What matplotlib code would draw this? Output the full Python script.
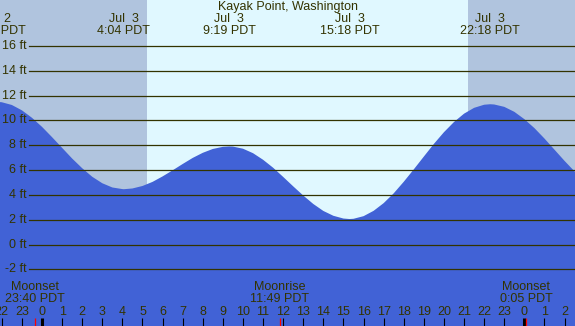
import matplotlib
matplotlib.use("Agg")
import matplotlib.pyplot as plt
from matplotlib.transforms import blended_transform_factory

# Tide chart, Kayak Point WA, Jul 3 -- hours counted from local midnight
STATION = "Kayak Point, Washington"

# water level (ft)
hours = [-3, -2.5, -2.29, -2, -1.5, -1, -0.5, 0, 0.5, 1, 1.5, 2, 2.5, 3, 3.5, 4, 4.07,
         4.5, 5, 5.5, 6, 6.5, 7, 7.5, 8, 8.5, 9, 9.32, 9.5, 10, 10.5, 11, 11.5, 12,
         12.5, 13, 13.5, 14, 14.5, 15, 15.3, 15.5, 16, 16.5, 17, 17.5, 18, 18.5, 19,
         19.5, 20, 20.5, 21, 21.5, 22, 22.3, 22.5, 23, 23.5, 24, 24.5, 25, 25.5, 26,
         26.5, 27]
heights = [11.29, 11.48, 11.50, 11.46, 11.24, 10.81, 10.21, 9.48, 8.65, 7.79, 6.93,
           6.15, 5.46, 4.94, 4.60, 4.47, 4.46, 4.52, 4.72, 5.05, 5.49, 5.98, 6.49,
           6.98, 7.39, 7.70, 7.87, 7.90, 7.89, 7.72, 7.36, 6.83, 6.19, 5.45, 4.69,
           3.95, 3.27, 2.71, 2.32, 2.10, 2.06, 2.08, 2.29, 2.72, 3.34, 4.13, 5.06,
           6.06, 7.09, 8.11, 9.05, 9.87, 10.54, 11.01, 11.26, 11.30, 11.28, 11.09,
           10.69, 10.10, 9.38, 8.54, 7.64, 6.74, 5.89, 5.13]

# high / low tide labels along the top
tide_hours = [-2.29, 4.07, 9.32, 15.30, 22.30]
tide_dates = ["Jul  2", "Jul  3", "Jul  3", "Jul  3", "Jul  3"]
tide_times = ["21:43 PDT", "4:04 PDT", "9:19 PDT", "15:18 PDT", "22:18 PDT"]

# moon events along the bottom
moon_hours = [-0.33, 11.82, 24.08]
moon_events = ["Moonset", "Moonrise", "Moonset"]
moon_times = ["23:40 PDT", "11:49 PDT", "0:05 PDT"]

sunrise, sunset = 5.22, 21.2

hour_ticks = list(range(-2, 27))
hour_labels = ["22", "23"] + [str(h) for h in range(24)] + ["0", "1", "2"]
ft_ticks = [-2, 0, 2, 4, 6, 8, 10, 12, 14, 16]

NIGHT = "#b0c4de"
DAY = "#e0f8ff"
WATER = "#4162d6"
INK = "#333300"
W, H = 575, 326

plt.rcParams["font.family"] = ["Liberation Sans", "DejaVu Sans"]
FS = 9

fig = plt.figure(figsize=(W / 100, H / 100), dpi=100)
ax = fig.add_axes([0, 0, 1, 1])
ax.set_xlim(-2.09, 26.52)
ax.set_ylim(-6.55, 19.69)
ax.axis("off")

ax.axvspan(-4, sunrise, color=NIGHT, lw=0)
ax.axvspan(sunrise, sunset, color=DAY, lw=0)
ax.axvspan(sunset, 28, color=NIGHT, lw=0)

ax.fill_between(hours, heights, -10, color=WATER, lw=0)

# height grid + labels
fig_y = blended_transform_factory(fig.transFigure, ax.transData)
for ft in ft_ticks:
    ax.axhline(ft, xmin=29 / W, xmax=1, color=INK, lw=0.9)
    ax.text(27 / W, ft, f"{ft} ft", transform=fig_y, ha="right", va="center",
            fontsize=FS, color=INK)

# top: station name and tide times
top = blended_transform_factory(ax.transData, fig.transFigure)
fig.text(0.5, 1 - 7 / H, STATION, ha="center", va="center", fontsize=FS, color=INK)
for h, d, t in zip(tide_hours, tide_dates, tide_times):
    ax.text(h, 1 - 19 / H, d, transform=top, ha="center", va="center",
            fontsize=FS, color=INK)
    ax.text(h, 1 - 31 / H, t, transform=top, ha="center", va="center",
            fontsize=FS, color=INK)

# bottom: moon events, hour labels and tick marks
for h, ev, t in zip(moon_hours, moon_events, moon_times):
    ax.text(h, 1 - 287 / H, ev, transform=top, ha="center", va="center",
            fontsize=FS, color=INK)
    ax.text(h, 1 - 299 / H, t, transform=top, ha="center", va="center",
            fontsize=FS, color=INK)

for h, lab in zip(hour_ticks, hour_labels):
    ax.text(h, 1 - 312 / H, lab, transform=top, ha="center", va="center",
            fontsize=FS, color=INK)
    lw = 2.2 if h % 24 == 0 else 0.8
    ax.plot([h, h], [0, 8 / H], transform=top, color="black", lw=lw,
            solid_capstyle="butt")

for h in moon_hours:
    ax.plot([h, h], [0, 8 / H], transform=top, color="red", lw=0.9,
            solid_capstyle="butt")

fig.savefig("out.png", dpi=100)
